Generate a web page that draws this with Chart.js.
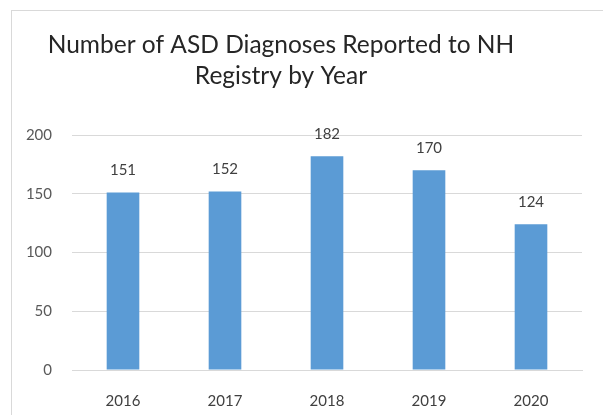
<!DOCTYPE html>
<html><head><meta charset="utf-8">
<script src="https://cdn.jsdelivr.net/npm/chart.js@4"></script>
<style>
html,body{margin:0;padding:0;background:#fff;overflow:hidden}
#wrap{position:absolute;left:0;top:0;width:603px;height:415px}
#frame{position:absolute;left:11px;top:10px;width:600px;height:420px;border:1px solid #d9d9d9;box-sizing:border-box}
canvas{position:absolute;left:0;top:0}
</style></head>
<body>
<div id="wrap"><div id="frame"></div><canvas id="c" width="603" height="415"></canvas></div>
<script>
const categories = ["2016", "2017", "2018", "2019", "2020"];
const diagnoses = [151, 152, 182, 170, 124];
const yTicks = [0, 50, 100, 150, 200];
const titleLines = ["Number of ASD Diagnoses Reported to NH", "Registry by Year"];

const FONT = "Lato, 'Open Sans', sans-serif";

const titlePlugin = {
  id: 'customTitle',
  afterDraw(chart) {
    const ctx = chart.ctx;
    ctx.save();
    ctx.fillStyle = '#262626';
    ctx.font = "24.5px " + FONT;
    ctx.textAlign = 'center';
    ctx.textBaseline = 'alphabetic';
    ctx.fillText(titleLines[0], 281, 53);
    ctx.fillText(titleLines[1], 281, 84);
    ctx.restore();
  }
};

const labelPlugin = {
  id: 'barLabels',
  afterDatasetsDraw(chart) {
    const ctx = chart.ctx;
    const meta = chart.getDatasetMeta(0);
    ctx.save();
    ctx.fillStyle = '#404040';
    ctx.font = "15px " + FONT;
    ctx.textAlign = 'center';
    ctx.textBaseline = 'middle';
    meta.data.forEach((bar, i) => {
      ctx.fillText(String(chart.data.datasets[0].data[i]), bar.x, bar.y - 22);
    });
    ctx.restore();
  }
};

new Chart(document.getElementById('c'), {
  type: 'bar',
  data: {
    labels: categories,
    datasets: [{
      data: diagnoses,
      backgroundColor: '#5B9BD5',
      borderWidth: 0,
      categoryPercentage: 1,
      barPercentage: 0.32
    }]
  },
  options: {
    responsive: false,
    animation: false,
    devicePixelRatio: 1,
    layout: { padding: { top: 135, right: 21, left: 0, bottom: 0 } },
    plugins: { legend: { display: false }, tooltip: { enabled: false }, title: { display: false } },
    scales: {
      x: {
        grid: { display: false },
        border: { display: true, color: '#d9d9d9' },
        ticks: { color: '#404040', font: { family: FONT, size: 15 }, padding: 14, maxRotation: 0 },
        afterFit(scale) { scale.height = 45; }
      },
      y: {
        min: 0, max: 200,
        afterBuildTicks(scale) { scale.ticks = yTicks.map(v => ({ value: v })); },
        grid: { color: '#d9d9d9', drawTicks: false },
        border: { display: false },
        ticks: { color: '#595959', font: { family: FONT, size: 15 }, padding: 20 },
        afterFit(scale) { scale.width = 72; }
      }
    }
  },
  plugins: [titlePlugin, labelPlugin]
});
</script>
</body></html>
